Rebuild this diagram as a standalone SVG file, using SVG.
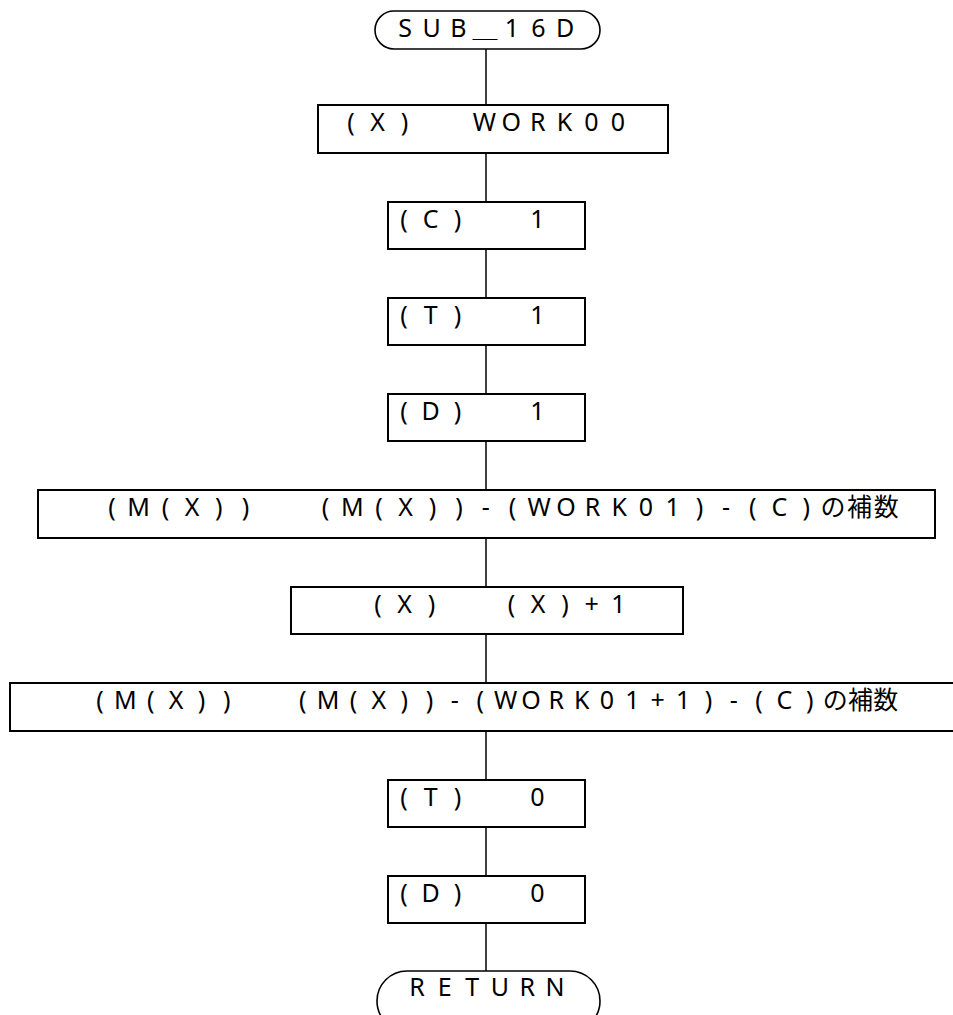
<svg xmlns="http://www.w3.org/2000/svg" width="953" height="1015" viewBox="0 0 953 1015">
<style>
.box{fill:#fff;stroke:#000;stroke-width:2}
.term{fill:#fff;stroke:#000;stroke-width:1.6}
.ln{stroke:#000;stroke-width:1.5;fill:none}
text{font-family:"Noto Sans","Noto Sans CJK JP",sans-serif;font-size:25px;fill:#000;text-anchor:middle}
</style>
<rect width="953" height="1015" fill="#fff"/>
<g id="connectors">
<line class="ln" x1="486" y1="49" x2="486" y2="105"/>
<line class="ln" x1="486" y1="153" x2="486" y2="202"/>
<line class="ln" x1="486" y1="249" x2="486" y2="298"/>
<line class="ln" x1="486" y1="345" x2="486" y2="394"/>
<line class="ln" x1="486" y1="441" x2="486" y2="490"/>
<line class="ln" x1="486" y1="538" x2="486" y2="587"/>
<line class="ln" x1="486" y1="634" x2="486" y2="683"/>
<line class="ln" x1="486" y1="731" x2="486" y2="780"/>
<line class="ln" x1="486" y1="827" x2="486" y2="876"/>
<line class="ln" x1="486" y1="923" x2="486" y2="971"/>
</g>
<g id="start">
<rect class="term" x="375" y="11" width="225" height="38" rx="19" ry="19"/>
<text x="405 431.7 458.4 485.1 511.8 538.5 565.2" y="37">SUB＿16D</text>
</g>
<g id="n1">
<rect class="box" x="318" y="105" width="350" height="48"/>
<text x="351 377.7 404.4" y="131">(X)</text>
<text x="484.5 511.2 537.9 564.6 591.3 618" y="131">WORK00</text>
</g>
<g id="n2">
<rect class="box" x="388" y="202" width="197" height="47"/>
<text x="404 430.7 457.4" y="228">(C)</text>
<text x="537.5" y="228">1</text>
</g>
<g id="n3">
<rect class="box" x="388" y="298" width="197" height="47"/>
<text x="404 430.7 457.4" y="324">(T)</text>
<text x="537.5" y="324">1</text>
</g>
<g id="n4">
<rect class="box" x="388" y="394" width="197" height="47"/>
<text x="404 430.7 457.4" y="420">(D)</text>
<text x="537.5" y="420">1</text>
</g>
<g id="n5">
<rect class="box" x="38" y="490" width="897" height="48"/>
<text x="112 138.7 165.4 192.1 218.8 245.5" y="516">(M(X))</text>
<text x="325.6 352.3 379 405.7 432.4 459.1 485.8 512.5 539.2 565.9 592.6 619.3 646 672.7 699.4 726.1 752.8 779.5 806.2 832.9 859.6 886.3" y="516">(M(X))-(WORK01)-(C)の補数</text>
</g>
<g id="n6">
<rect class="box" x="291" y="587" width="392" height="47"/>
<text x="378 404.7 431.4" y="613">(X)</text>
<text x="511.5 538.2 564.9 591.6 618.3" y="613">(X)+1</text>
</g>
<g id="n7">
<rect class="box" x="10" y="683" width="960" height="48"/>
<text x="100 125.35 150.7 176.05 201.4 226.75" y="709">(M(X))</text>
<text x="302.8 328.15 353.5 378.85 404.2 429.55 454.9 480.25 505.6 530.95 556.3 581.65 607 632.35 657.7 683.05 708.4 733.75 759.1 784.45 809.8 835.15 860.5 885.85" y="709">(M(X))-(WORK01+1)-(C)の補数</text>
</g>
<g id="n8">
<rect class="box" x="388" y="780" width="197" height="47"/>
<text x="404 430.7 457.4" y="806">(T)</text>
<text x="537.5" y="806">0</text>
</g>
<g id="n9">
<rect class="box" x="388" y="876" width="197" height="47"/>
<text x="404 430.7 457.4" y="902">(D)</text>
<text x="537.5" y="902">0</text>
</g>
<g id="end">
<rect class="term" x="377" y="971" width="223" height="60" rx="30" ry="30"/>
<text x="417 444.6 472.2 499.8 527.4 555" y="996">RETURN</text>
</g>
</svg>
